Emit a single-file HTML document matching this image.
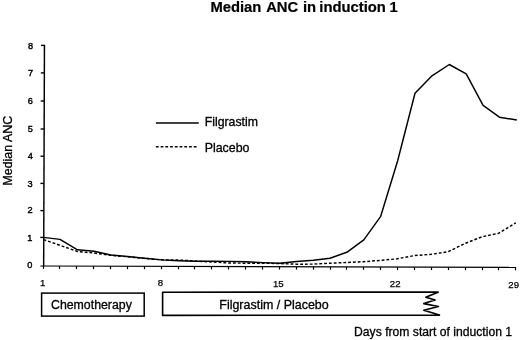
<!DOCTYPE html>
<html><head><meta charset="utf-8"><title>Median ANC in induction 1</title>
<style>
html,body{margin:0;padding:0;background:#fff;}
body{width:520px;height:340px;overflow:hidden;}
svg{display:block;font-family:"Liberation Sans",Arial,sans-serif;fill:#000;}
text{stroke:#000;stroke-width:0.3px;}
.sm text{stroke-width:0.4px;}
.sx text{stroke-width:0.25px;}
</style></head><body>
<svg width="520" height="340" viewBox="0 0 520 340">
<rect width="520" height="340" fill="#fff"/>
<text y="11.5" font-size="14.8" font-weight="bold" style="stroke-width:0.2px"><tspan x="210.4">Median </tspan><tspan x="266.2">ANC </tspan><tspan x="303">in </tspan><tspan x="319.3">induction </tspan><tspan x="389.6">1</tspan></text>
<line x1="44.45" y1="44.7" x2="43.65" y2="266.4" stroke="#000" stroke-width="1.45"/>
<line x1="40.4" y1="266.0" x2="516" y2="267.4" stroke="#000" stroke-width="1.15"/>
<g stroke="#000" stroke-width="1.2" fill="none"><line x1="43.5" y1="266.00" x2="43.5" y2="268.90"/><line x1="59.5" y1="266.05" x2="59.5" y2="268.95"/><line x1="76.5" y1="266.10" x2="76.5" y2="269.00"/><line x1="93.5" y1="266.15" x2="93.5" y2="269.05"/><line x1="110.5" y1="266.20" x2="110.5" y2="269.10"/><line x1="127.5" y1="266.25" x2="127.5" y2="269.15"/><line x1="144.5" y1="266.30" x2="144.5" y2="269.20"/><line x1="161.5" y1="266.35" x2="161.5" y2="269.25"/><line x1="178.5" y1="266.40" x2="178.5" y2="269.30"/><line x1="194.5" y1="266.45" x2="194.5" y2="269.35"/><line x1="211.5" y1="266.50" x2="211.5" y2="269.40"/><line x1="228.5" y1="266.55" x2="228.5" y2="269.45"/><line x1="245.5" y1="266.60" x2="245.5" y2="269.50"/><line x1="262.5" y1="266.65" x2="262.5" y2="269.55"/><line x1="279.5" y1="266.70" x2="279.5" y2="269.60"/><line x1="296.5" y1="266.75" x2="296.5" y2="269.65"/><line x1="313.5" y1="266.80" x2="313.5" y2="269.70"/><line x1="330.5" y1="266.85" x2="330.5" y2="269.75"/><line x1="346.5" y1="266.90" x2="346.5" y2="269.80"/><line x1="363.5" y1="266.95" x2="363.5" y2="269.85"/><line x1="380.5" y1="267.00" x2="380.5" y2="269.90"/><line x1="397.5" y1="267.05" x2="397.5" y2="269.95"/><line x1="414.5" y1="267.10" x2="414.5" y2="270.00"/><line x1="431.5" y1="267.15" x2="431.5" y2="270.05"/><line x1="448.5" y1="267.20" x2="448.5" y2="270.10"/><line x1="465.5" y1="267.25" x2="465.5" y2="270.15"/><line x1="482.5" y1="267.30" x2="482.5" y2="270.20"/><line x1="498.5" y1="267.35" x2="498.5" y2="270.25"/><line x1="515.5" y1="267.40" x2="515.5" y2="270.30"/></g>
<g stroke="#000" stroke-width="1.4" fill="none"><line x1="40.25" y1="237.40" x2="43.75" y2="237.40"/><line x1="40.35" y1="210.60" x2="43.85" y2="210.60"/><line x1="40.45" y1="183.40" x2="43.95" y2="183.40"/><line x1="40.55" y1="156.20" x2="44.05" y2="156.20"/><line x1="40.65" y1="129.00" x2="44.15" y2="129.00"/><line x1="40.75" y1="101.00" x2="44.25" y2="101.00"/><line x1="40.85" y1="72.90" x2="44.35" y2="72.90"/><line x1="40.95" y1="45.40" x2="44.45" y2="45.40"/></g>
<g font-size="9.2" class="sm"><text x="32.40" y="267.9" text-anchor="end">0</text><text x="32.49" y="240.9" text-anchor="end">1</text><text x="32.58" y="213.3" text-anchor="end">2</text><text x="32.66" y="186.9" text-anchor="end">3</text><text x="32.75" y="158.7" text-anchor="end">4</text><text x="32.84" y="131.5" text-anchor="end">5</text><text x="32.93" y="103.8" text-anchor="end">6</text><text x="33.01" y="76.4" text-anchor="end">7</text><text x="33.10" y="48.5" text-anchor="end">8</text></g>
<g font-size="9.6" class="sx"><text x="42.6" y="285.8" text-anchor="middle">1</text><text x="160.3" y="286.2" text-anchor="middle">8</text><text x="278.3" y="286.6" text-anchor="middle">15</text><text x="395.2" y="287.0" text-anchor="middle">22</text><text x="513.7" y="287.5" text-anchor="middle">29</text></g>
<text transform="translate(11.6,185.6) rotate(-90)" font-size="12.2" textLength="69.8" lengthAdjust="spacingAndGlyphs">Median ANC</text>
<polyline points="43.5,237.4 60,239.4 77.5,249.8 94,251.3 110.8,255 127.6,256.5 144.5,258.2 161.5,259.9 178.5,260.7 195.5,261.2 212,261.3 229,261.4 246,261.8 263,262.6 279.8,263.3 296.6,261.5 313.3,260.3 330,258.2 346.8,252.3 363.8,239.8 380.7,216.3 397.6,161 415,93.3 432,75.8 449.3,64.5 466.2,73.8 483.1,105.4 499.4,117.2 516.8,120" fill="none" stroke="#000" stroke-width="1.45" stroke-linejoin="round"/>
<polyline points="43.5,239.6 60,245.3 77.5,251.5 94,253.0 110.8,255.3 127.6,256.8 144.5,258.4 161.5,259.8 178.5,260.0 195.5,261 212,262 229,263 246,263.2 263,263.3 279.8,263.5 296.6,264.2 313.3,264.1 330,263.2 346.8,262.5 363.6,261.7 380.4,260.4 397.2,258.8 414.4,255.6 431.3,254.3 448.2,251.7 465.3,243.3 482,236.8 498.8,233.2 515.8,222.9" fill="none" stroke="#000" stroke-width="1.45" stroke-dasharray="2.85 1.95" stroke-linejoin="round"/>
<line x1="155.9" y1="123" x2="198.8" y2="123" stroke="#000" stroke-width="1.3"/>
<line x1="155.9" y1="146.7" x2="196.6" y2="146.7" stroke="#000" stroke-width="1.45" stroke-dasharray="2.8 1.93"/>
<text x="204.7" y="125.9" font-size="12.2" textLength="53.2" lengthAdjust="spacingAndGlyphs">Filgrastim</text>
<text x="204.7" y="151.5" font-size="12.2" textLength="44.8" lengthAdjust="spacingAndGlyphs">Placebo</text>
<rect x="41.6" y="293.1" width="102.6" height="23" fill="none" stroke="#000" stroke-width="1.5"/>
<text x="51" y="308.8" font-size="12.3" textLength="80.8" lengthAdjust="spacingAndGlyphs">Chemotherapy</text>
<polyline points="438.7,292 162.6,292.2 162.6,315.4 439.5,315.1 423.8,310.2 438.4,306.5 423.8,303.6 435.1,299.9 425.8,297.2 438.7,292" fill="none" stroke="#000" stroke-width="1.6" stroke-linejoin="round"/>
<text x="219.3" y="308.7" font-size="12.3" textLength="109.4" lengthAdjust="spacingAndGlyphs">Filgrastim / Placebo</text>
<text x="354.1" y="336.2" font-size="12.2" textLength="158" lengthAdjust="spacingAndGlyphs">Days from start of induction 1</text>
</svg>
</body></html>
